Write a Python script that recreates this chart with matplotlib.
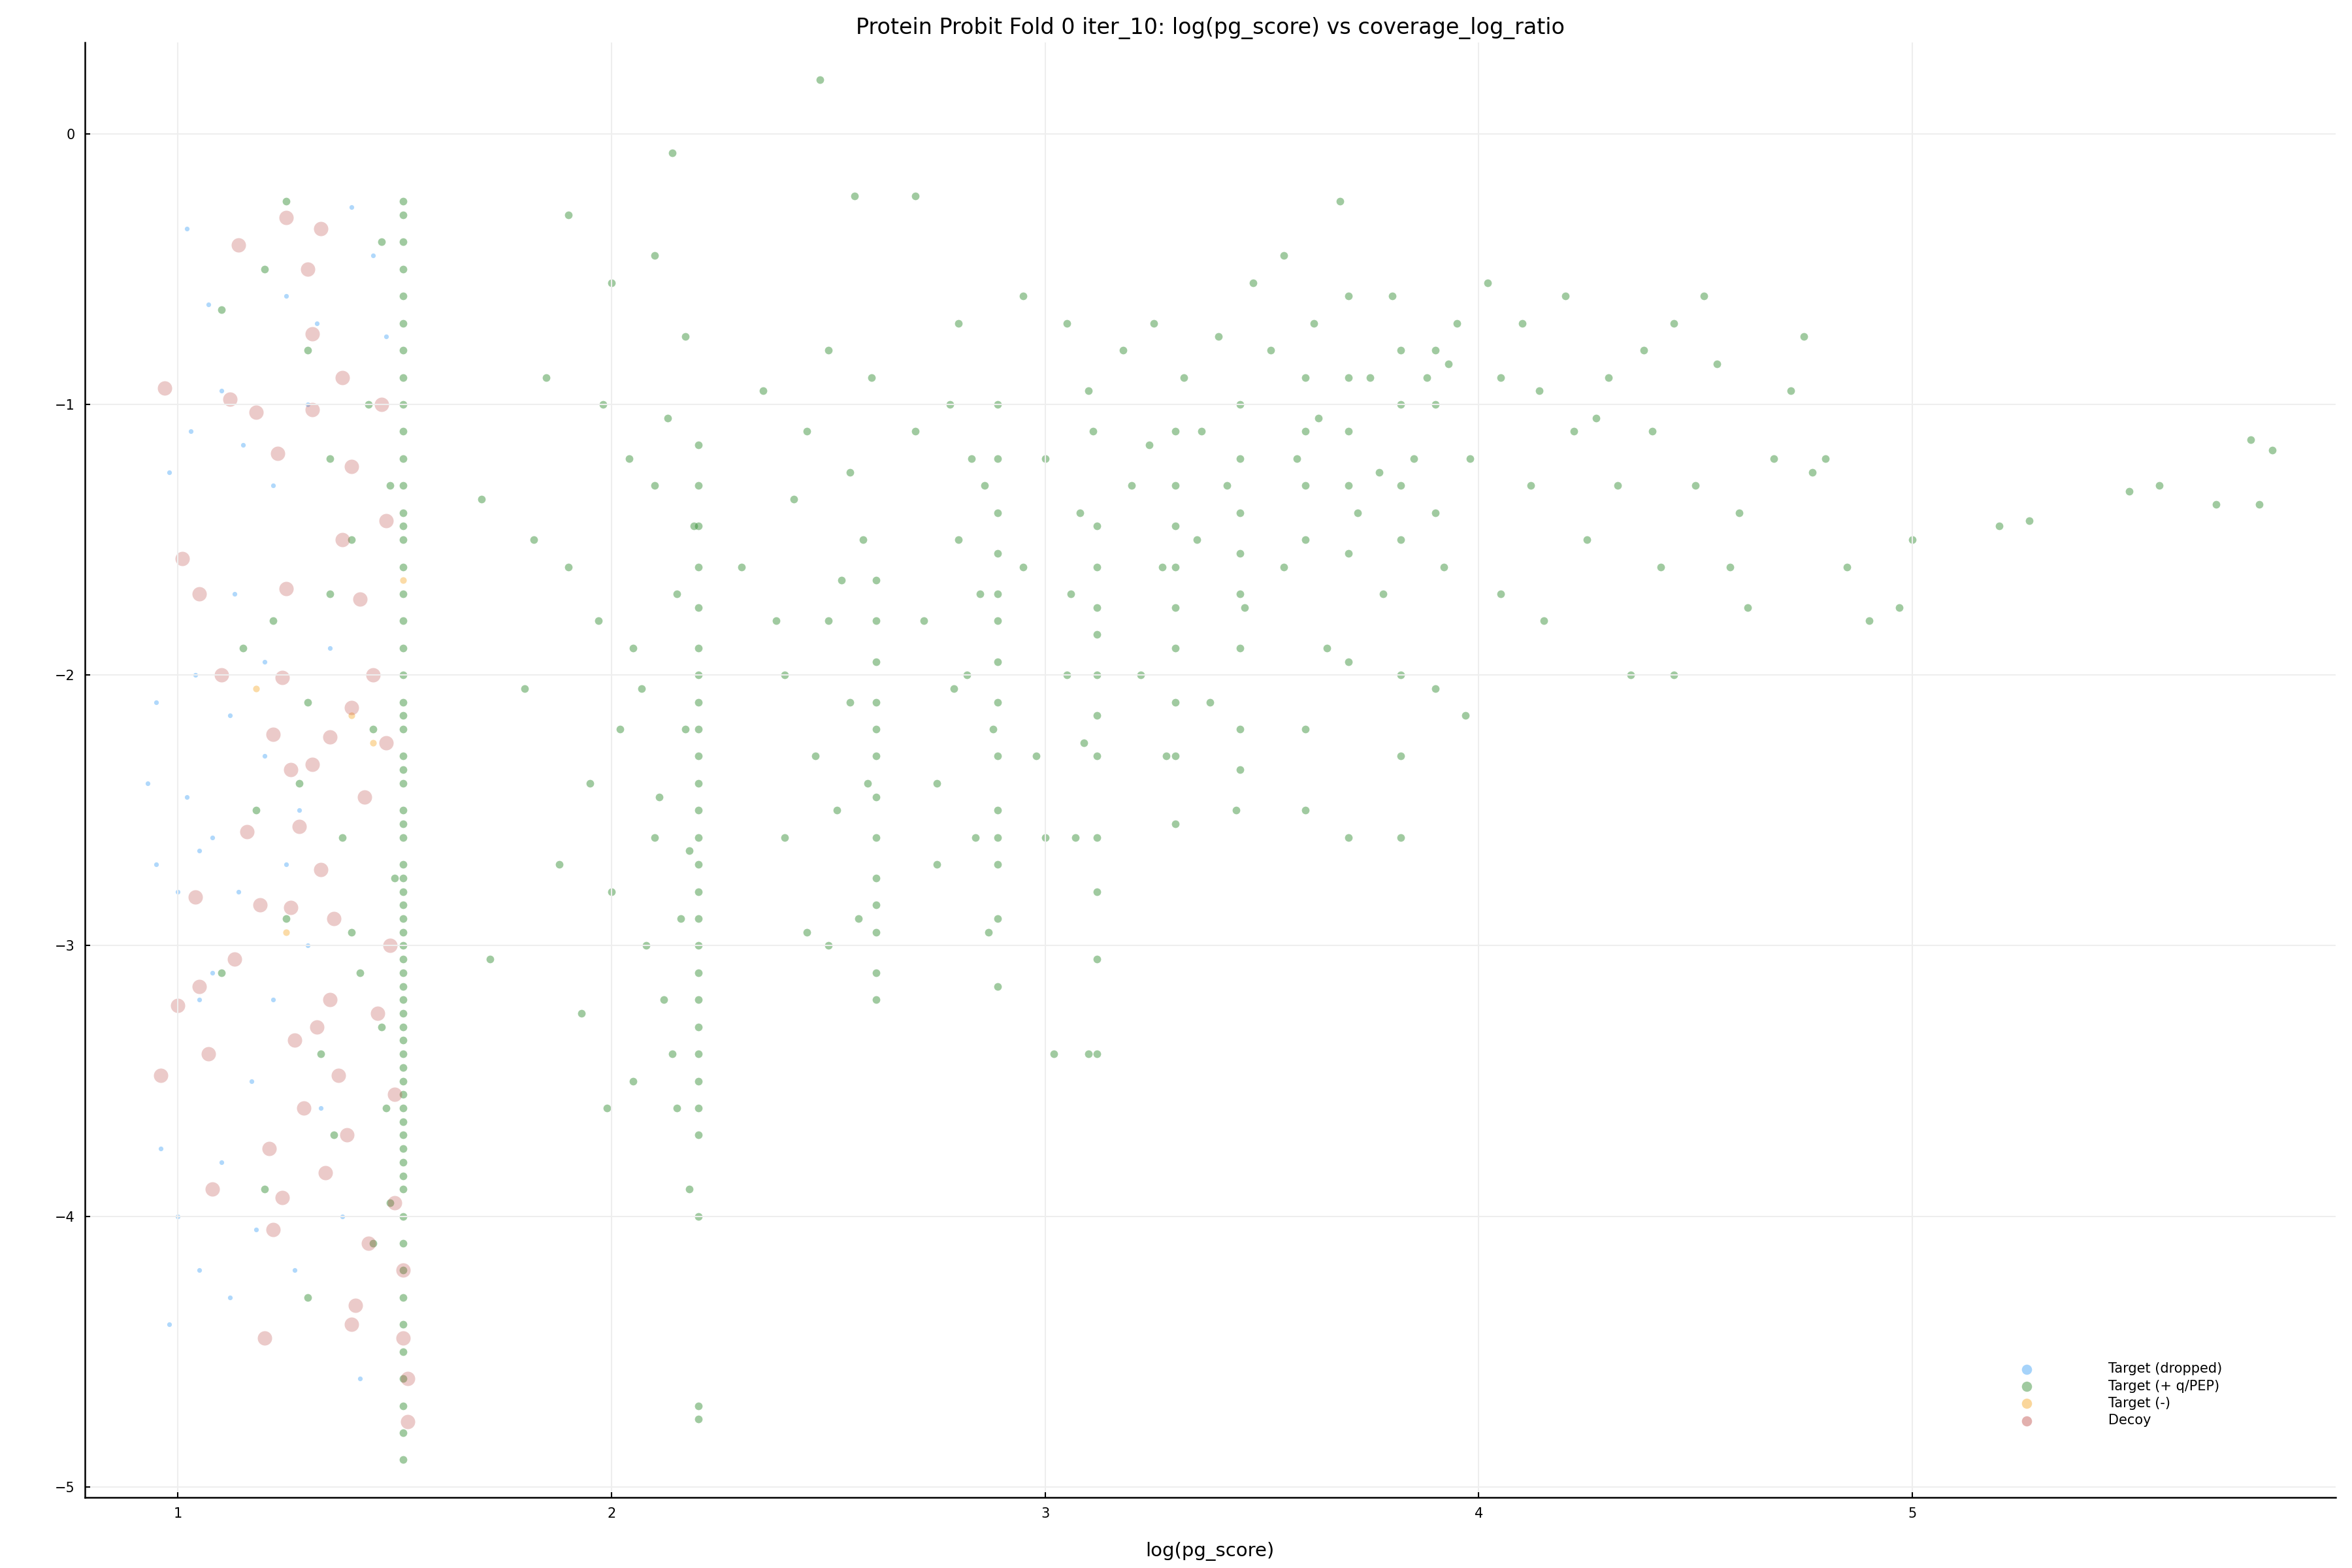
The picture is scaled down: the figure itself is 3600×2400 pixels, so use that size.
import matplotlib
matplotlib.use("Agg")
import matplotlib.pyplot as plt

# vertical bands of green points (x value, y values)
COLUMNS = {
    1.52: [-0.25, -0.3, -0.4, -0.5, -0.6, -0.7, -0.8, -0.9, -1.0, -1.1, -1.2, -1.3, -1.4, -1.45,
           -1.5, -1.6, -1.7, -1.8, -1.9, -2.0, -2.1, -2.15, -2.2, -2.3, -2.35, -2.4, -2.5, -2.55,
           -2.6, -2.7, -2.75, -2.8, -2.85, -2.9, -2.95, -3.0, -3.05, -3.1, -3.15, -3.2, -3.25,
           -3.3, -3.35, -3.4, -3.45, -3.5, -3.55, -3.6, -3.65, -3.7, -3.75, -3.8, -3.85, -3.9,
           -4.0, -4.1, -4.2, -4.3, -4.4, -4.5, -4.6, -4.7, -4.8, -4.9],
    2.2: [-1.15, -1.3, -1.45, -1.6, -1.75, -1.9, -2.0, -2.1, -2.2, -2.3, -2.4, -2.5, -2.6, -2.7,
          -2.8, -2.9, -3.0, -3.1, -3.2, -3.3, -3.4, -3.5, -3.6, -3.7, -4.0, -4.7, -4.75],
    2.61: [-1.65, -1.8, -1.95, -2.1, -2.2, -2.3, -2.45, -2.6, -2.75, -2.85, -2.95, -3.1, -3.2],
    2.89: [-1.0, -1.2, -1.4, -1.55, -1.7, -1.8, -1.95, -2.1, -2.3, -2.5, -2.6, -2.7, -2.9, -3.15],
    3.12: [-1.45, -1.6, -1.75, -1.85, -2.0, -2.15, -2.3, -2.6, -2.8, -3.05, -3.4],
    3.3: [-1.1, -1.3, -1.45, -1.6, -1.75, -1.9, -2.1, -2.3, -2.55],
    3.45: [-1.0, -1.2, -1.4, -1.55, -1.7, -1.9, -2.2, -2.35],
    3.6: [-0.9, -1.1, -1.3, -1.5, -2.2, -2.5],
    3.7: [-0.6, -0.9, -1.1, -1.3, -1.55, -1.95, -2.6],
    3.82: [-0.8, -1.0, -1.3, -1.5, -2.0, -2.3, -2.6],
    3.9: [-0.8, -1.0, -1.4, -2.05],
}

GREEN_PTS = [
    (1.2, -0.5), (1.25, -0.25), (1.3, -0.8), (1.35, -1.2), (1.4, -1.5), (1.22, -1.8), (1.3, -2.1),
    (1.45, -2.2), (1.38, -2.6), (1.25, -2.9), (1.42, -3.1), (1.33, -3.4), (1.48, -3.6), (1.2, -3.9),
    (1.45, -4.1), (1.3, -4.3), (1.1, -0.65), (1.15, -1.9), (1.1, -3.1), (1.47, -0.4), (1.44, -1.0),
    (1.35, -1.7), (1.28, -2.4), (1.4, -2.95), (1.47, -3.3), (1.36, -3.7), (1.49, -3.95), (1.18, -2.5),
    (1.5, -2.75), (1.49, -1.3),
    (1.7, -1.35), (1.72, -3.05), (1.8, -2.05), (1.85, -0.9), (1.9, -0.3), (1.9, -1.6), (1.95, -2.4),
    (1.98, -1.0), (2.0, -0.55), (2.0, -2.8), (2.05, -1.9), (2.05, -3.5), (2.1, -0.45), (2.1, -1.3),
    (2.1, -2.6), (2.12, -3.2), (2.14, -0.07), (2.15, -1.7), (2.15, -3.6), (2.17, -0.75), (2.17, -2.2),
    (2.18, -3.9), (1.88, -2.7), (1.93, -3.25), (2.02, -2.2), (2.08, -3.0), (2.13, -1.05), (2.16, -2.9),
    (1.82, -1.5), (1.97, -1.8), (2.04, -1.2), (2.19, -1.45), (2.11, -2.45), (2.07, -2.05),
    (2.18, -2.65), (2.14, -3.4), (1.99, -3.6),
    (2.3, -1.6), (2.35, -0.95), (2.4, -2.0), (2.42, -1.35), (2.45, -1.1), (2.48, 0.2), (2.5, -0.8),
    (2.5, -1.8), (2.52, -2.5), (2.55, -1.25), (2.56, -0.23), (2.57, -2.9), (2.45, -2.95), (2.4, -2.6),
    (2.55, -2.1), (2.58, -1.5), (2.53, -1.65), (2.47, -2.3), (2.59, -2.4), (2.5, -3.0), (2.38, -1.8),
    (2.6, -0.9),
    (2.7, -0.23), (2.7, -1.1), (2.72, -1.8), (2.75, -2.4), (2.78, -1.0), (2.8, -0.7), (2.8, -1.5),
    (2.82, -2.0), (2.84, -2.6), (2.86, -1.3), (2.87, -2.95), (2.85, -1.7), (2.75, -2.7), (2.88, -2.2),
    (2.79, -2.05), (2.83, -1.2),
    (2.95, -0.6), (2.95, -1.6), (2.98, -2.3), (3.0, -1.2), (3.02, -3.4), (3.05, -0.7), (3.05, -2.0),
    (3.07, -2.6), (3.08, -1.4), (3.1, -0.95), (3.1, -3.4), (3.0, -2.6), (3.06, -1.7), (3.09, -2.25),
    (3.11, -1.1),
    (3.18, -0.8), (3.2, -1.3), (3.22, -2.0), (3.25, -0.7), (3.27, -1.6), (3.28, -2.3), (3.32, -0.9),
    (3.35, -1.5), (3.38, -2.1), (3.4, -0.75), (3.42, -1.3), (3.44, -2.5), (3.48, -0.55), (3.36, -1.1),
    (3.24, -1.15), (3.46, -1.75),
    (3.52, -0.8), (3.55, -0.45), (3.55, -1.6), (3.58, -1.2), (3.62, -0.7), (3.65, -1.9), (3.68, -0.25),
    (3.72, -1.4), (3.75, -0.9), (3.78, -1.7), (3.8, -0.6), (3.85, -1.2), (3.88, -0.9), (3.92, -1.6),
    (3.95, -0.7), (3.98, -1.2), (3.97, -2.15), (3.93, -0.85), (3.63, -1.05), (3.77, -1.25),
    (4.02, -0.55), (4.05, -0.9), (4.05, -1.7), (4.1, -0.7), (4.12, -1.3), (4.15, -1.8), (4.2, -0.6),
    (4.22, -1.1), (4.25, -1.5), (4.3, -0.9), (4.32, -1.3), (4.35, -2.0), (4.4, -1.1), (4.42, -1.6),
    (4.45, -0.7), (4.45, -2.0), (4.5, -1.3), (4.52, -0.6), (4.55, -0.85), (4.6, -1.4), (4.62, -1.75),
    (4.68, -1.2), (4.72, -0.95), (4.75, -0.75), (4.77, -1.25), (4.8, -1.2), (4.85, -1.6), (4.9, -1.8),
    (4.97, -1.75), (5.0, -1.5), (5.2, -1.45), (5.27, -1.43), (5.5, -1.32), (5.57, -1.3), (5.7, -1.37),
    (5.78, -1.13), (5.8, -1.37), (5.83, -1.17), (4.38, -0.8), (4.58, -1.6), (4.27, -1.05), (4.14, -0.95),
]

BLUE_PTS = [
    (0.93, -2.4), (0.95, -2.1), (0.95, -2.7), (0.96, -3.75), (0.98, -4.4), (1.0, -4.0), (1.0, -2.8),
    (1.02, -0.35), (1.02, -2.45), (1.03, -1.1), (1.04, -2.0), (1.05, -3.2), (1.05, -4.2), (1.07, -0.63),
    (1.08, -2.6), (1.1, -0.95), (1.1, -3.8), (1.12, -4.3), (1.13, -1.7), (1.14, -2.8), (1.15, -1.15),
    (1.17, -3.5), (1.2, -2.3), (1.22, -1.3), (1.22, -3.2), (1.25, -0.6), (1.25, -2.7), (1.27, -4.2),
    (1.3, -1.0), (1.3, -3.0), (1.32, -0.7), (1.35, -1.9), (1.38, -4.0), (1.4, -0.27), (1.42, -4.6),
    (1.45, -0.45), (1.48, -0.75), (1.2, -1.95), (1.05, -2.65), (0.98, -1.25), (1.12, -2.15),
    (1.28, -2.5), (1.33, -3.6), (1.08, -3.1), (1.18, -4.05),
]

ORANGE_PTS = [(1.25, -2.95), (1.4, -2.15), (1.52, -1.65), (1.45, -2.25), (1.18, -2.05)]

DECOY_PTS = [
    (0.97, -0.94), (1.01, -1.57), (0.96, -3.48), (1.0, -3.22), (1.05, -1.7), (1.04, -2.82),
    (1.05, -3.15), (1.07, -3.4), (1.08, -3.9), (1.1, -2.0), (1.12, -0.98), (1.14, -0.41),
    (1.13, -3.05), (1.16, -2.58), (1.18, -1.03), (1.2, -4.45), (1.22, -2.22), (1.22, -4.05),
    (1.23, -1.18), (1.24, -2.01), (1.25, -0.31), (1.25, -1.68), (1.26, -2.86), (1.27, -3.35),
    (1.28, -2.56), (1.29, -3.6), (1.3, -0.5), (1.31, -0.74), (1.31, -1.02), (1.31, -2.33),
    (1.32, -3.3), (1.33, -0.35), (1.33, -2.72), (1.34, -3.84), (1.35, -2.23), (1.36, -2.9),
    (1.37, -3.48), (1.38, -0.9), (1.38, -1.5), (1.39, -3.7), (1.4, -1.23), (1.4, -2.12),
    (1.41, -4.33), (1.42, -1.72), (1.43, -2.45), (1.44, -4.1), (1.45, -2.0), (1.46, -3.25),
    (1.47, -1.0), (1.48, -1.43), (1.48, -2.25), (1.49, -3.0), (1.5, -3.55), (1.5, -3.95),
    (1.52, -4.2), (1.52, -4.45), (1.53, -4.6), (1.53, -4.76), (1.21, -3.75), (1.24, -3.93),
    (1.4, -4.4), (1.26, -2.35), (1.35, -3.2), (1.19, -2.85),
]

BLUE = "#3a9ef5"
GREEN = "#2e8b2e"
ORANGE = "#f5a623"
DECOY = "#c0504d"

fig = plt.figure(figsize=(12, 8), dpi=300)
ax = fig.add_axes([0.036, 0.045, 0.957, 0.928])

gx = [x for x, ys in COLUMNS.items() for _ in ys] + [p[0] for p in GREEN_PTS]
gy = [y for ys in COLUMNS.values() for y in ys] + [p[1] for p in GREEN_PTS]

ax.scatter([p[0] for p in BLUE_PTS], [p[1] for p in BLUE_PTS], s=3, color=BLUE, alpha=0.4,
           linewidths=0, label="Target (dropped)")
ax.scatter(gx, gy, s=8, color=GREEN, alpha=0.45, linewidths=0, label="Target (+ q/PEP)")
ax.scatter([p[0] for p in ORANGE_PTS], [p[1] for p in ORANGE_PTS], s=6, color=ORANGE, alpha=0.4,
           linewidths=0, label="Target (-)")
ax.scatter([p[0] for p in DECOY_PTS], [p[1] for p in DECOY_PTS], s=28, color=DECOY, alpha=0.3,
           linewidths=0, label="Decoy")

ax.set_xlim(0.785, 5.976)
ax.set_ylim(-5.039, 0.338)
ax.set_xticks([1, 2, 3, 4, 5])
ax.set_yticks([0, -1, -2, -3, -4, -5])
ax.set_yticklabels(["0", "\u22121", "\u22122", "\u22123", "\u22124", "\u22125"])
ax.tick_params(labelsize=5, length=2, width=0.5, direction="in")
ax.grid(color="#eeeeee", linewidth=0.5)
for s in ["top", "right"]:
    ax.spines[s].set_visible(False)
for s in ["left", "bottom"]:
    ax.spines[s].set_linewidth(0.6)

ax.set_title("Protein Probit Fold 0 iter_10: log(pg_score) vs coverage_log_ratio", fontsize=8, pad=3)
ax.set_xlabel("log(pg_score)", fontsize=7, labelpad=8)

leg = ax.legend(loc="lower right", bbox_to_anchor=(0.955, 0.04), fontsize=5, frameon=False,
                handletextpad=5, labelspacing=0.3)
for h in leg.legend_handles:
    h.set_sizes([14])
    h.set_alpha(0.45)

fig.savefig("out.png", dpi=300)
